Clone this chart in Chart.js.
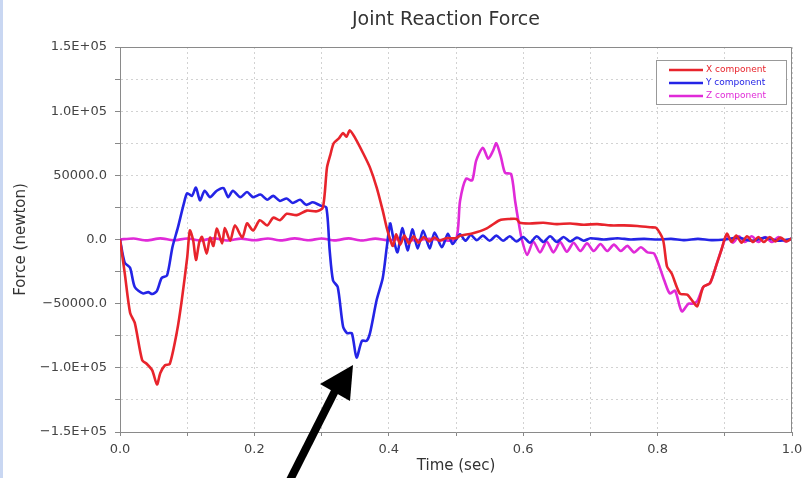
<!DOCTYPE html>
<html>
<head>
<meta charset="utf-8">
<script src="https://cdn.jsdelivr.net/npm/chart.js@4"></script>
<style>
  html, body { margin: 0; padding: 0; background: #fff; }
  #wrap { width: 803px; height: 478px; position: relative; }
</style>
</head>
<body>
<div id="wrap"><canvas id="chart" width="803" height="478"></canvas></div>
<script>
// X component (red)
const redT = [0, 0.007, 0.015, 0.022, 0.033, 0.040, 0.048, 0.055, 0.060, 0.067, 0.074, 0.085, 0.092, 0.100, 0.104, 0.109, 0.113, 0.118, 0.122, 0.129, 0.134, 0.139, 0.144, 0.152, 0.156, 0.164, 0.171, 0.182, 0.189, 0.198, 0.208, 0.219, 0.228, 0.238, 0.248, 0.263, 0.278, 0.293, 0.302, 0.308, 0.313, 0.318, 0.326, 0.332, 0.337, 0.342, 0.350, 0.362, 0.372, 0.382, 0.391, 0.397, 0.402, 0.406, 0.411, 0.417, 0.423, 0.430, 0.437, 0.444, 0.452, 0.460, 0.468, 0.476, 0.485, 0.500, 0.506, 0.524, 0.545, 0.565, 0.580, 0.590, 0.595, 0.610, 0.630, 0.650, 0.670, 0.690, 0.710, 0.730, 0.750, 0.770, 0.790, 0.798, 0.808, 0.814, 0.821, 0.833, 0.844, 0.852, 0.859, 0.868, 0.878, 0.888, 0.895, 0.903, 0.910, 0.917, 0.925, 0.933, 0.942, 0.950, 0.958, 0.967, 0.975, 0.983, 0.992, 1.000];
const redF = [0, -26000, -57000, -65000, -94000, -97000, -102000, -113000, -104000, -98000, -97000, -71000, -47000, -14000, 7000, -1000, -16000, -2000, 2000, -11000, 1500, -5000, 8500, -3000, 9000, -1000, 11000, 1500, 12500, 7000, 15000, 11000, 17000, 15000, 20000, 19000, 22500, 22000, 25000, 56000, 66000, 75000, 79000, 83000, 80000, 85000, 79000, 67000, 56000, 40500, 22500, 9000, 0, -5000, 4000, -4000, 3000, -3000, 2500, -2500, 2000, -1500, 1500, -1000, 1000, 1000, 3000, 4700, 8500, 15000, 16000, 16000, 13000, 12500, 13000, 12000, 12500, 11500, 12000, 11000, 11000, 10500, 9500, 9000, 0, -21000, -26500, -42000, -43000, -48000, -52000, -37000, -34000, -19000, -8000, 4500, -2000, 3000, -2500, 2500, -2000, 2000, -2000, 2000, -1500, 1500, -1500, 1000];

// Y component (blue)
const blueT = [0, 0.007, 0.015, 0.022, 0.034, 0.042, 0.048, 0.055, 0.062, 0.070, 0.078, 0.086, 0.095, 0.100, 0.107, 0.113, 0.119, 0.126, 0.134, 0.144, 0.154, 0.161, 0.168, 0.179, 0.189, 0.198, 0.209, 0.219, 0.228, 0.238, 0.248, 0.257, 0.268, 0.277, 0.287, 0.298, 0.307, 0.312, 0.317, 0.324, 0.332, 0.338, 0.345, 0.352, 0.360, 0.367, 0.372, 0.382, 0.391, 0.397, 0.402, 0.406, 0.413, 0.420, 0.428, 0.435, 0.443, 0.451, 0.461, 0.468, 0.479, 0.488, 0.495, 0.506, 0.514, 0.522, 0.531, 0.540, 0.550, 0.560, 0.570, 0.580, 0.590, 0.600, 0.610, 0.620, 0.630, 0.640, 0.650, 0.660, 0.670, 0.680, 0.690, 0.700, 0.720, 0.740, 0.760, 0.780, 0.800, 0.820, 0.840, 0.860, 0.880, 0.900, 0.920, 0.940, 0.960, 0.980, 1.000];
const blueF = [0, -18000, -22000, -37000, -42000, -41000, -42500, -40000, -30000, -28000, -6000, 9000, 28000, 36000, 34000, 40500, 30500, 38000, 33000, 38000, 40000, 33000, 38000, 33000, 37000, 33000, 35000, 31000, 34000, 30000, 32000, 28500, 31000, 27000, 29000, 26500, 25000, -8500, -32000, -37000, -68000, -73000, -73000, -92000, -79000, -79000, -73000, -47000, -30000, -6000, 12500, 3000, -10000, 9000, -8500, 8000, -7000, 7000, -7000, 5500, -6000, 4500, -3500, 4000, -1000, 3500, -500, 3000, -1000, 3000, -1000, 2500, -1500, 2000, -2500, 2500, -2000, 2500, -2000, 2000, -1500, 1500, -1000, 1000, 0, 1000, 0, 500, 0, 500, -500, 500, -500, 0, 1500, -1000, 1500, -1000, 500];

// Z component (magenta)
const magT = [0, 0.02, 0.04, 0.06, 0.08, 0.10, 0.12, 0.14, 0.16, 0.18, 0.20, 0.22, 0.24, 0.26, 0.28, 0.30, 0.32, 0.34, 0.36, 0.38, 0.40, 0.42, 0.44, 0.46, 0.48, 0.500, 0.506, 0.515, 0.524, 0.530, 0.540, 0.548, 0.555, 0.560, 0.567, 0.573, 0.582, 0.588, 0.592, 0.598, 0.606, 0.615, 0.625, 0.635, 0.645, 0.655, 0.665, 0.675, 0.685, 0.695, 0.705, 0.715, 0.725, 0.735, 0.745, 0.755, 0.765, 0.775, 0.785, 0.795, 0.810, 0.818, 0.826, 0.836, 0.846, 0.852, 0.859, 0.868, 0.878, 0.888, 0.895, 0.903, 0.912, 0.921, 0.930, 0.940, 0.950, 0.960, 0.970, 0.980, 0.990, 1.000];
const magF = [0, 800, -700, 900, -600, 800, -700, 900, -800, 700, -600, 800, -700, 900, -600, 800, -700, 900, -800, 700, -600, 800, -700, 600, -500, 0, 30000, 47500, 46000, 61500, 71500, 63000, 69000, 75000, 64000, 52000, 51000, 30000, 17000, 0, -12000, -1500, -10000, -1500, -10000, -2000, -9500, -2500, -9000, -3000, -9000, -3500, -9000, -4000, -9000, -5000, -10000, -6000, -10000, -11000, -32000, -42000, -40000, -56000, -50000, -50000, -48000, -37000, -34000, -19000, -8000, 3000, -2500, 2500, -2000, 2500, -2000, 2000, -2000, 2000, -1500, 1000];

const seriesNames = ['X component', 'Y component', 'Z component'];
const seriesColors = ['#e8242c', '#2424e6', '#e02ad8'];
const yTickValues = [150000, 100000, 50000, 0, -50000, -100000, -150000];
const yTickLabels = ['1.5E+05', '1.0E+05', '50000.0', '0.0', '\u221250000.0', '\u22121.0E+05', '\u22121.5E+05'];
const xTickValues = [0, 0.2, 0.4, 0.6, 0.8, 1.0];
const xTickLabels = ['0.0', '0.2', '0.4', '0.6', '0.8', '1.0'];
const chartTitle = 'Joint Reaction Force';

function pts(ts, fs) {
  return ts.map((t, i) => ({ x: t, y: fs[i] }));
}

const FONT = '"DejaVu Sans", Arial, sans-serif';

const extras = {
  id: 'extras',
  beforeDraw(chart) {
    const c = chart.ctx;
    c.save();
    c.fillStyle = '#ffffff';
    c.fillRect(0, 0, chart.width, chart.height);
    c.fillStyle = '#c9d7f2';
    c.fillRect(0, 0, 3, chart.height);
    // title
    c.fillStyle = '#333';
    c.font = '19px ' + FONT;
    c.textAlign = 'center';
    c.textBaseline = 'middle';
    c.fillText(chartTitle, 446, 20);
    c.restore();
  },
  afterDatasetsDraw(chart) {
    const c = chart.ctx;
    const a = chart.chartArea;
    c.save();
    // frame top/right
    c.strokeStyle = '#8a8a8a';
    c.lineWidth = 1;
    c.beginPath();
    c.moveTo(a.left, a.top + 0.5);
    c.lineTo(a.right - 0.5, a.top + 0.5);
    c.lineTo(a.right - 0.5, a.bottom);
    c.stroke();

    // legend box
    const lx = 656, ly = 60, lw = 130, lh = 44;
    c.fillStyle = '#ffffff';
    c.fillRect(lx, ly, lw, lh);
    c.strokeStyle = '#999';
    c.strokeRect(lx + 0.5, ly + 0.5, lw, lh);
    c.font = '9px ' + FONT;
    c.textBaseline = 'middle';
    seriesNames.forEach((name, i) => {
      const yy = ly + 10 + i * 13;
      c.strokeStyle = seriesColors[i];
      c.lineWidth = 2.5;
      c.beginPath();
      c.moveTo(669, yy);
      c.lineTo(703, yy);
      c.stroke();
      c.fillStyle = seriesColors[i];
      c.fillText(name, 706, yy);
    });
    c.restore();
  },
  afterDraw(chart) {
    // black annotation arrow
    const c = chart.ctx;
    c.save();
    c.strokeStyle = '#000';
    c.fillStyle = '#000';
    c.lineWidth = 8;
    c.beginPath();
    c.moveTo(289, 482);
    c.lineTo(338, 385);
    c.stroke();
    c.beginPath();
    c.moveTo(353, 365);
    c.lineTo(320, 384);
    c.lineTo(350, 401);
    c.closePath();
    c.fill();
    c.restore();
  }
};

new Chart(document.getElementById('chart').getContext('2d'), {
  type: 'scatter',
  data: {
    datasets: [
      { label: seriesNames[0], data: pts(redT, redF), borderColor: seriesColors[0] },
      { label: seriesNames[1], data: pts(blueT, blueF), borderColor: seriesColors[1] },
      { label: seriesNames[2], data: pts(magT, magF), borderColor: seriesColors[2] }
    ].map(d => Object.assign(d, { showLine: true, pointRadius: 0, borderWidth: 2.6, tension: 0.25, fill: false }))
  },
  options: {
    responsive: false,
    animation: false,
    layout: { padding: { left: 12, right: 0, top: 47, bottom: 0 } },
    plugins: {
      legend: { display: false },
      tooltip: { enabled: false },
      title: { display: false }
    },
    scales: {
      x: {
        type: 'linear',
        min: 0, max: 1,
        afterBuildTicks(s) { s.ticks = [0, 0.1, 0.2, 0.3, 0.4, 0.5, 0.6, 0.7, 0.8, 0.9, 1.0].map(v => ({ value: v })); },
        afterFit(s) { s.height = 46; s.paddingRight = 11; s.paddingLeft = 0; },
        ticks: {
          color: '#444',
          font: { family: FONT, size: 13 },
          padding: 6,
          maxRotation: 0,
          autoSkip: false,
          callback(v) {
            const i = xTickValues.findIndex(t => Math.abs(t - v) < 1e-6);
            return i >= 0 ? xTickLabels[i] : '';
          }
        },
        grid: { color: '#d2d2d2', tickColor: '#888', tickLength: 4, tickBorderDash: [] },
        border: { display: true, color: '#8a8a8a', width: 1, dash: [2, 3] },
        title: { display: true, text: 'Time (sec)', color: '#333', font: { family: FONT, size: 15 }, padding: { top: 0, bottom: 3 } }
      },
      y: {
        min: -150000, max: 150000,
        afterBuildTicks(s) {
          const t = [];
          for (let v = -150000; v <= 150000; v += 25000) t.push({ value: v });
          s.ticks = t;
        },
        afterFit(s) { s.width = 108; },
        ticks: {
          color: '#444',
          font: { family: FONT, size: 13 },
          padding: 8,
          autoSkip: false,
          callback(v) {
            const i = yTickValues.indexOf(v);
            return i >= 0 ? yTickLabels[i] : '';
          }
        },
        grid: { color: '#d2d2d2', tickColor: '#888', tickLength: 5, tickBorderDash: [] },
        border: { display: true, color: '#8a8a8a', width: 1, dash: [2, 3] },
        title: { display: true, text: 'Force (newton)', color: '#333', font: { family: FONT, size: 15 }, padding: { top: 0, bottom: 0 } }
      }
    }
  },
  plugins: [extras]
});
</script>
</body>
</html>
